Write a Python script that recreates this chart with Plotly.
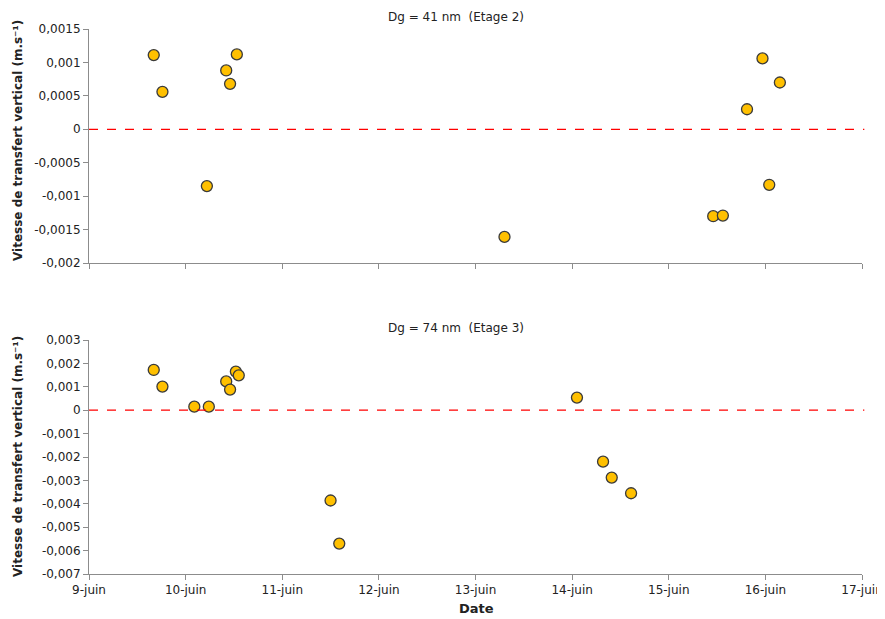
import plotly.graph_objects as go
from datetime import datetime, timedelta

base = datetime(2000, 6, 9)

def to_dates(days):
    return [base + timedelta(days=d - 9) for d in days]

# Panel 1: Dg = 41 nm (Etage 2)
days_41 = [9.67, 9.76, 10.22, 10.42, 10.46, 10.53, 13.30, 15.46, 15.56, 15.81, 15.97, 16.04, 16.15]
vals_41 = [0.00111, 0.00056, -0.00085, 0.00088, 0.00068, 0.00112, -0.00161, -0.00130, -0.00129,
           0.00030, 0.00106, -0.00083, 0.00070]

# Panel 2: Dg = 74 nm (Etage 3)
days_74 = [9.67, 9.76, 10.09, 10.24, 10.42, 10.46, 10.52, 10.55, 11.50, 11.59, 14.05, 14.32, 14.41, 14.61]
vals_74 = [0.00172, 0.00101, 0.00015, 0.00015, 0.00123, 0.00088, 0.00165, 0.00149, -0.00386, -0.00570,
           0.00054, -0.00220, -0.00288, -0.00355]

titles = ["Dg = 41 nm  (Etage 2)", "Dg = 74 nm  (Etage 3)"]
y_title = "Vitesse de transfert vertical (m.s⁻¹)"
x_title = "Date"

x_tick_days = [9, 10, 11, 12, 13, 14, 15, 16, 17]
x_tick_labels = ["9-juin", "10-juin", "11-juin", "12-juin", "13-juin", "14-juin", "15-juin", "16-juin", "17-juin"]

y1_ticks = [0.0015, 0.001, 0.0005, 0, -0.0005, -0.001, -0.0015, -0.002]
y1_labels = ["0,0015", "0,001", "0,0005", "0", "-0,0005", "-0,001", "-0,0015", "-0,002"]
y2_ticks = [0.003, 0.002, 0.001, 0, -0.001, -0.002, -0.003, -0.004, -0.005, -0.006, -0.007]
y2_labels = ["0,003", "0,002", "0,001", "0", "-0,001", "-0,002", "-0,003", "-0,004", "-0,005", "-0,006", "-0,007"]

# page body has an 8px margin: figure drawn at (8, 8)
OFF = 8
W, H = 885 - OFF, 619 - OFF
L, R = 89 - OFF, 23
FONT = "DejaVu Sans"
AX = "#8c8c8c"

def py(px):
    return (H - (px - OFF)) / H

top_dom = [py(263), py(29)]
bot_dom = [py(574), py(340)]

marker = dict(size=11, color="#FFC000", line=dict(color="#3a3a3a", width=1.3))

fig = go.Figure()
fig.add_trace(go.Scatter(x=to_dates(days_41), y=vals_41, mode="markers", marker=marker,
                         xaxis="x", yaxis="y", showlegend=False))
fig.add_trace(go.Scatter(x=to_dates(days_74), y=vals_74, mode="markers", marker=marker,
                         xaxis="x2", yaxis="y2", showlegend=False))

xr = [to_dates([9])[0], to_dates([17])[0]]
common_x = dict(range=xr, showgrid=False, zeroline=False, showline=True, linecolor=AX, linewidth=1,
                ticks="outside", tickcolor=AX, ticklen=5, tickvals=to_dates(x_tick_days),
                ticktext=x_tick_labels, tickfont=dict(family=FONT, size=12, color="#222"),
                domain=[0, 1], automargin=False)
common_y = dict(showgrid=False, zeroline=False, showline=True, linecolor=AX, linewidth=1,
                ticks="outside", tickcolor=AX, ticklen=5, automargin=False,
                tickfont=dict(family=FONT, size=12, color="#222"))

fig.update_layout(
    width=W, height=H,
    margin=dict(l=L, r=R, t=0, b=0, autoexpand=False),
    paper_bgcolor="white", plot_bgcolor="white",
    xaxis=dict(common_x, anchor="y", showticklabels=False),
    yaxis=dict(common_y, domain=top_dom, range=[-0.002, 0.0015], tickvals=y1_ticks, ticktext=y1_labels, anchor="x"),
    xaxis2=dict(common_x, anchor="y2"),
    yaxis2=dict(common_y, domain=bot_dom, range=[-0.007, 0.003], tickvals=y2_ticks, ticktext=y2_labels, anchor="x2"),
    shapes=[
        dict(type="line", xref="x domain", yref="y", x0=0, x1=1.003, y0=0, y1=0,
             line=dict(color="#ff0000", width=1.3, dash="dash")),
        dict(type="line", xref="x2 domain", yref="y2", x0=0, x1=1.003, y0=0, y1=0,
             line=dict(color="#ff0000", width=1.3, dash="dash")),
    ],
)

pw = W - L - R
def pxx(px):
    return (px - OFF - L) / pw

ann = []
ann.append(dict(text=titles[0], x=pxx(456), y=py(17), xref="paper", yref="paper", showarrow=False,
                font=dict(family=FONT, size=12, color="#222"), xanchor="center", yanchor="middle"))
ann.append(dict(text=titles[1], x=pxx(456), y=py(328), xref="paper", yref="paper", showarrow=False,
                font=dict(family=FONT, size=12, color="#222"), xanchor="center", yanchor="middle"))
for yc in (141, 457):
    ann.append(dict(text=y_title, x=pxx(18), y=py(yc), xref="paper", yref="paper", showarrow=False,
                    textangle=-90, font=dict(family=FONT, size=12, color="#222", weight="bold"),
                    xanchor="center", yanchor="middle"))
ann.append(dict(text=x_title, x=pxx(476), y=py(608), xref="paper", yref="paper", showarrow=False,
                font=dict(family=FONT, size=13, color="#222", weight="bold"), xanchor="center", yanchor="middle"))
fig.update_layout(annotations=ann)

fig.write_html("out.html")
